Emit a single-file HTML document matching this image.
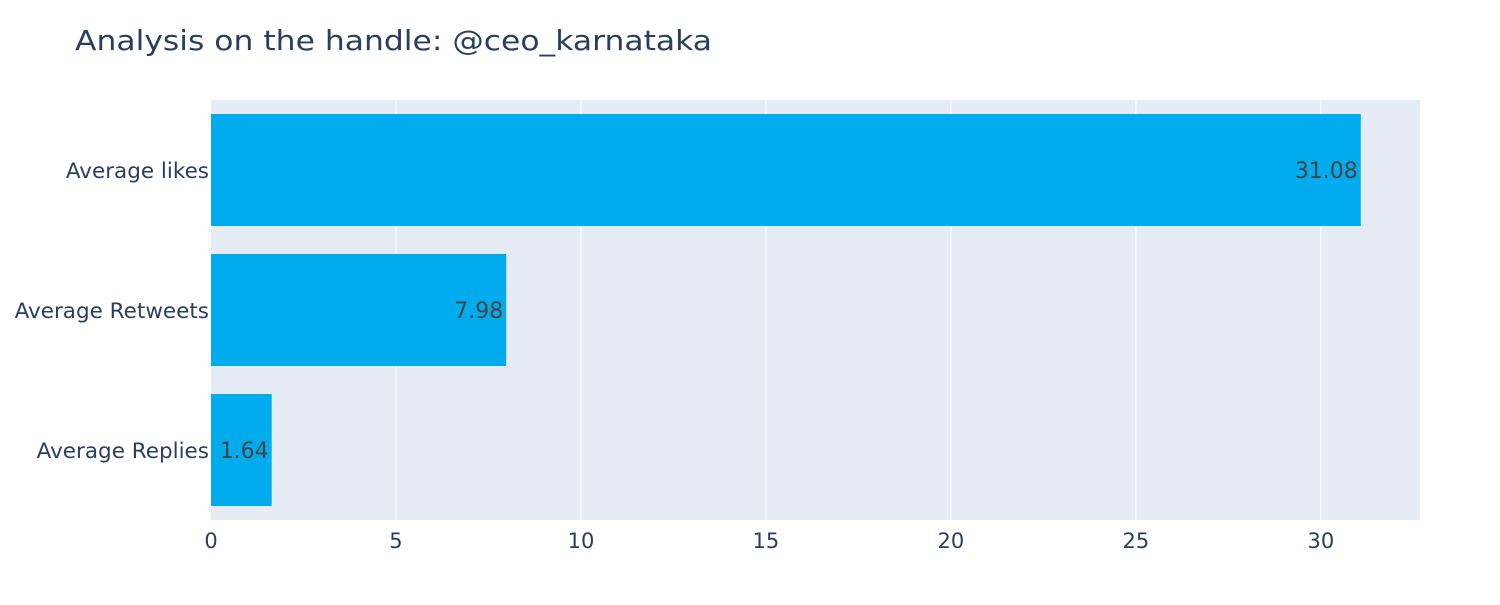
<!DOCTYPE html>
<html><head><meta charset="utf-8"><style>
body{margin:0;background:#fff;}
svg text{font-family:"DejaVu Sans","Liberation Sans",sans-serif;}
</style></head><body>
<svg id="chart" width="1500" height="600">
<rect x="0" y="0" width="1500" height="600" fill="#fff"/>
<text x="75" y="50" font-size="28" fill="#2a3f5f" textLength="637" lengthAdjust="spacingAndGlyphs">Analysis on the handle: @ceo_karnataka</text>
<rect x="211" y="100" width="1209" height="420" fill="#e5ecf6"/>
<g id="grid"></g><g id="bars"></g><g id="xticks"></g><g id="yticks"></g>
</svg>
<script>
const categories=["Average likes","Average Retweets","Average Replies"];
const values=[31.08,7.98,1.64];
const labels=["31.08","7.98","1.64"];
const ticks=[0,5,10,15,20,25,30];
const xMax=32.68;
const L=211,R=1420,T=100,B=520;
const ns="http://www.w3.org/2000/svg";
const xs=v=>L+v/xMax*(R-L);
const band=(B-T)/categories.length;
function mk(tag,attrs,parent){const e=document.createElementNS(ns,tag);for(const k in attrs)e.setAttribute(k,attrs[k]);document.getElementById(parent).appendChild(e);return e;}
ticks.forEach((t,i)=>{
  if(t>0){const g=mk('line',{x1:xs(t),x2:xs(t),y1:T,y2:B,stroke:'#fff','stroke-width':1},'grid');
  
  }
  const tx=mk('text',{x:xs(t),y:B+28,'font-size':21,fill:'#2a3f5f','text-anchor':'middle'},'xticks');
  tx.textContent=t;
  
  
});
categories.forEach((c,i)=>{
  const cy=T+band*i+band/2;
  const bh=band*0.8;
  const r=mk('rect',{x:L,y:cy-bh/2,width:xs(values[i])-L,height:bh,fill:'#00abee'},'bars');
  
  
  const vt=mk('text',{x:xs(values[i])-3,y:cy+8,'font-size':22,fill:'#444','text-anchor':'end'},'bars');
  vt.textContent=labels[i];
  
  
  const yt=mk('text',{x:L-2,y:cy+8,'font-size':21.5,fill:'#2a3f5f','text-anchor':'end'},'yticks');
  yt.textContent=c;
  
  
});
</script>
</body></html>
